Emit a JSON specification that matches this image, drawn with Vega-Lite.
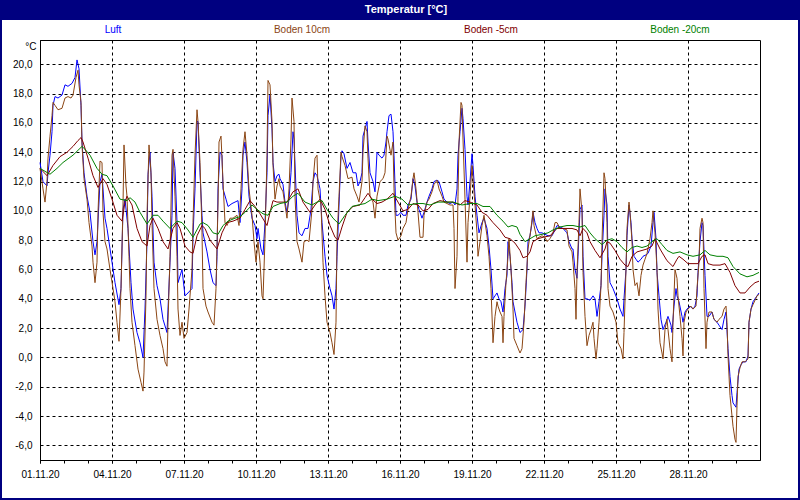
{
"$schema":"https://vega.github.io/schema/vega-lite/v6.json",
"width":720,"height":420,
"autosize":{"type":"none"},
"padding":{"left":40,"top":40,"right":40,"bottom":40},
"background":"#ffffff",
"config":{"view":{"stroke":"#000000","strokeWidth":1},"font":"Liberation Sans",
 "axisY":{"labelOverlap":false,"grid":true,"gridColor":"#000000","gridDash":[3,3],"gridOpacity":1,"gridWidth":1,"ticks":false,"tickSize":0,"labelPadding":8,"domainColor":"#000000","labelFont":"Liberation Sans","labelFontSize":10,"labelColor":"#000000","titleAngle":0,"titleX":-4,"titleY":6,"titleAlign":"right","titleBaseline":"middle","titleFont":"Liberation Sans","titleFontSize":10,"titleFontWeight":"normal","titleColor":"#000000"}},
"datasets":{
"luft":[{"h":0,"v":13.3},{"h":3,"v":12.0},{"h":7,"v":11.7},{"h":8,"v":12.6},{"h":10,"v":13.8},{"h":12,"v":15.4},{"h":13,"v":17.2},{"h":15,"v":17.8},{"h":18,"v":17.7},{"h":22,"v":17.9},{"h":25,"v":18.6},{"h":28,"v":18.5},{"h":32,"v":18.7},{"h":35,"v":19.1},{"h":37,"v":20.3},{"h":39,"v":19.7},{"h":41,"v":17.2},{"h":42,"v":14.7},{"h":44,"v":12.6},{"h":47,"v":11.0},{"h":50,"v":9.9},{"h":53,"v":7.9},{"h":55,"v":7.0},{"h":57,"v":7.9},{"h":60,"v":12.0},{"h":62,"v":12.5},{"h":65,"v":9.5},{"h":67,"v":8.8},{"h":72,"v":6.5},{"h":75,"v":5.1},{"h":79,"v":3.6},{"h":81,"v":4.7},{"h":83,"v":10.1},{"h":85,"v":10.8},{"h":88,"v":8.8},{"h":91,"v":5.1},{"h":93,"v":3.3},{"h":97,"v":1.7},{"h":100,"v":1.0},{"h":103,"v":0.0},{"h":105,"v":3.3},{"h":107,"v":7.9},{"h":108,"v":12.5},{"h":110,"v":14.0},{"h":112,"v":11.0},{"h":114,"v":6.5},{"h":117,"v":4.9},{"h":120,"v":4.0},{"h":123,"v":2.6},{"h":127,"v":1.7},{"h":128,"v":3.3},{"h":130,"v":6.5},{"h":132,"v":9.7},{"h":133,"v":14.0},{"h":135,"v":12.9},{"h":137,"v":9.2},{"h":138,"v":5.1},{"h":142,"v":6.0},{"h":145,"v":4.2},{"h":148,"v":4.4},{"h":152,"v":4.7},{"h":153,"v":8.3},{"h":155,"v":11.5},{"h":157,"v":16.1},{"h":158,"v":16.1},{"h":160,"v":12.6},{"h":162,"v":9.7},{"h":163,"v":8.5},{"h":167,"v":7.2},{"h":170,"v":6.0},{"h":173,"v":5.1},{"h":176,"v":4.9},{"h":177,"v":6.9},{"h":178,"v":11.5},{"h":180,"v":14.0},{"h":182,"v":13.8},{"h":183,"v":11.5},{"h":186,"v":10.8},{"h":188,"v":10.3},{"h":192,"v":10.5},{"h":195,"v":10.6},{"h":198,"v":10.7},{"h":200,"v":9.2},{"h":202,"v":11.5},{"h":203,"v":13.8},{"h":205,"v":14.7},{"h":207,"v":13.3},{"h":209,"v":11.0},{"h":212,"v":9.5},{"h":215,"v":9.0},{"h":217,"v":8.1},{"h":218,"v":8.8},{"h":221,"v":7.4},{"h":223,"v":7.0},{"h":225,"v":9.2},{"h":227,"v":12.6},{"h":228,"v":16.5},{"h":230,"v":17.9},{"h":232,"v":15.6},{"h":233,"v":13.3},{"h":235,"v":12.0},{"h":237,"v":12.4},{"h":239,"v":12.5},
{"h":240,"v":12.2},{"h":243,"v":11.8},{"h":245,"v":10.6},{"h":247,"v":9.9},{"h":249,"v":10.8},{"h":251,"v":12.6},{"h":253,"v":15.4},{"h":254,"v":14.9},{"h":256,"v":11.5},{"h":257,"v":9.7},{"h":259,"v":8.5},{"h":262,"v":8.3},{"h":265,"v":8.8},{"h":268,"v":8.8},{"h":271,"v":10.1},{"h":273,"v":12.0},{"h":275,"v":12.6},{"h":277,"v":12.4},{"h":280,"v":11.5},{"h":282,"v":9.2},{"h":285,"v":6.9},{"h":287,"v":5.6},{"h":290,"v":4.7},{"h":292,"v":4.2},{"h":294,"v":3.3},{"h":296,"v":4.7},{"h":297,"v":6.9},{"h":299,"v":10.4},{"h":301,"v":13.8},{"h":302,"v":14.1},{"h":304,"v":13.9},{"h":307,"v":12.9},{"h":310,"v":13.3},{"h":313,"v":12.6},{"h":316,"v":12.6},{"h":318,"v":11.7},{"h":320,"v":12.0},{"h":322,"v":12.6},{"h":323,"v":15.1},{"h":325,"v":15.6},{"h":327,"v":16.1},{"h":328,"v":14.7},{"h":330,"v":12.6},{"h":333,"v":12.0},{"h":335,"v":11.3},{"h":337,"v":14.0},{"h":339,"v":13.8},{"h":342,"v":13.6},{"h":344,"v":13.8},{"h":346,"v":14.7},{"h":347,"v":15.4},{"h":349,"v":16.5},{"h":351,"v":16.6},{"h":353,"v":15.4},{"h":354,"v":13.8},{"h":356,"v":9.7},{"h":358,"v":9.7},{"h":361,"v":9.9},{"h":363,"v":9.7},{"h":366,"v":9.7},{"h":368,"v":10.4},{"h":371,"v":10.8},{"h":373,"v":12.2},{"h":375,"v":11.7},{"h":377,"v":10.6},{"h":379,"v":10.1},{"h":382,"v":9.5},{"h":384,"v":9.9},{"h":387,"v":10.6},{"h":389,"v":11.0},{"h":392,"v":11.5},{"h":394,"v":12.0},{"h":397,"v":12.1},{"h":399,"v":12.0},{"h":402,"v":11.3},{"h":404,"v":10.8},{"h":407,"v":10.6},{"h":410,"v":10.5},{"h":413,"v":10.6},{"h":415,"v":10.4},{"h":417,"v":11.5},{"h":418,"v":13.8},{"h":420,"v":15.4},{"h":422,"v":17.0},{"h":423,"v":16.3},{"h":425,"v":14.2},{"h":427,"v":11.0},{"h":428,"v":10.4},{"h":430,"v":12.0},{"h":432,"v":13.9},{"h":433,"v":13.1},{"h":435,"v":11.0},{"h":437,"v":9.7},{"h":439,"v":8.5},{"h":442,"v":9.2},{"h":444,"v":9.5},{"h":447,"v":8.8},{"h":449,"v":7.6},{"h":451,"v":6.0},{"h":453,"v":4.0},{"h":455,"v":4.2},{"h":457,"v":4.4},{"h":459,"v":4.0},{"h":461,"v":3.8},{"h":463,"v":3.1},{"h":465,"v":4.7},{"h":467,"v":5.6},{"h":468,"v":7.9},{"h":470,"v":6.9},{"h":472,"v":5.1},{"h":473,"v":3.8},{"h":475,"v":3.1},{"h":477,"v":2.4},
{"h":480,"v":1.7},{"h":483,"v":1.9},{"h":485,"v":3.5},{"h":487,"v":6.0},{"h":488,"v":7.9},{"h":490,"v":8.3},{"h":492,"v":9.2},{"h":493,"v":9.9},{"h":495,"v":9.2},{"h":497,"v":8.8},{"h":499,"v":8.5},{"h":502,"v":8.5},{"h":505,"v":8.4},{"h":508,"v":8.3},{"h":512,"v":8.3},{"h":515,"v":8.7},{"h":517,"v":9.0},{"h":520,"v":8.9},{"h":523,"v":8.8},{"h":527,"v":8.5},{"h":529,"v":7.9},{"h":532,"v":7.4},{"h":533,"v":7.4},{"h":535,"v":6.0},{"h":537,"v":5.4},{"h":538,"v":6.9},{"h":540,"v":10.1},{"h":542,"v":10.4},{"h":543,"v":6.9},{"h":545,"v":4.0},{"h":547,"v":4.0},{"h":550,"v":3.9},{"h":553,"v":4.2},{"h":555,"v":4.0},{"h":557,"v":2.8},{"h":559,"v":3.8},{"h":561,"v":4.9},{"h":562,"v":6.9},{"h":564,"v":9.7},{"h":565,"v":11.5},{"h":567,"v":10.4},{"h":568,"v":6.9},{"h":570,"v":5.1},{"h":573,"v":4.7},{"h":577,"v":4.0},{"h":580,"v":3.3},{"h":583,"v":2.8},{"h":584,"v":4.0},{"h":586,"v":6.0},{"h":587,"v":8.3},{"h":589,"v":10.4},{"h":591,"v":9.2},{"h":592,"v":8.1},{"h":594,"v":6.9},{"h":596,"v":6.7},{"h":598,"v":6.5},{"h":601,"v":6.7},{"h":603,"v":6.9},{"h":606,"v":7.0},{"h":608,"v":7.1},{"h":611,"v":7.6},{"h":613,"v":9.2},{"h":614,"v":9.9},{"h":616,"v":8.1},{"h":617,"v":5.8},{"h":619,"v":4.2},{"h":621,"v":2.6},{"h":623,"v":1.9},{"h":626,"v":2.4},{"h":628,"v":2.8},{"h":631,"v":2.2},{"h":632,"v":1.7},{"h":634,"v":3.5},{"h":636,"v":4.7},{"h":637,"v":4.2},{"h":639,"v":3.8},{"h":642,"v":2.8},{"h":643,"v":2.4},{"h":645,"v":3.1},{"h":647,"v":3.3},{"h":650,"v":3.5},{"h":653,"v":3.3},{"h":655,"v":3.5},{"h":657,"v":4.2},{"h":658,"v":5.8},{"h":660,"v":7.9},{"h":662,"v":9.2},{"h":663,"v":9.0},{"h":665,"v":5.6},{"h":667,"v":2.8},{"h":669,"v":2.8},{"h":672,"v":3.1},{"h":674,"v":2.6},{"h":677,"v":2.4},{"h":679,"v":2.2},{"h":682,"v":1.9},{"h":684,"v":2.6},{"h":686,"v":3.1},{"h":688,"v":0.6},{"h":690,"v":-1.3},{"h":692,"v":-2.6},{"h":693,"v":-3.1},{"h":696,"v":-3.4},{"h":697,"v":-2.4},{"h":699,"v":-0.8},{"h":701,"v":-0.5},{"h":703,"v":-0.3},{"h":706,"v":-0.3},{"h":708,"v":0.1},{"h":709,"v":2.4},{"h":711,"v":3.3},{"h":713,"v":3.8},{"h":717,"v":4.2},{"h":719,"v":4.4}],
"boden10":[{"h":0,"v":12.9},{"h":3,"v":11.5},{"h":5,"v":10.6},{"h":7,"v":12.0},{"h":8,"v":13.6},{"h":10,"v":15.1},{"h":12,"v":16.5},{"h":13,"v":17.4},{"h":15,"v":17.2},{"h":18,"v":16.9},{"h":22,"v":17.0},{"h":25,"v":17.7},{"h":28,"v":17.8},{"h":31,"v":17.7},{"h":33,"v":17.9},{"h":36,"v":19.1},{"h":38,"v":19.6},{"h":39,"v":18.6},{"h":41,"v":17.4},{"h":42,"v":14.5},{"h":44,"v":12.2},{"h":47,"v":10.8},{"h":49,"v":9.2},{"h":52,"v":7.6},{"h":53,"v":6.5},{"h":55,"v":5.1},{"h":57,"v":6.5},{"h":58,"v":9.9},{"h":60,"v":13.4},{"h":62,"v":13.3},{"h":63,"v":9.9},{"h":65,"v":7.9},{"h":67,"v":7.4},{"h":70,"v":6.0},{"h":73,"v":4.7},{"h":75,"v":3.8},{"h":77,"v":2.4},{"h":79,"v":1.1},{"h":81,"v":4.7},{"h":83,"v":10.4},{"h":84,"v":14.5},{"h":86,"v":11.7},{"h":87,"v":11.0},{"h":89,"v":6.9},{"h":90,"v":4.7},{"h":92,"v":2.4},{"h":95,"v":0.8},{"h":98,"v":-0.8},{"h":101,"v":-1.7},{"h":103,"v":-2.3},{"h":104,"v":-1.0},{"h":106,"v":4.2},{"h":107,"v":9.7},{"h":109,"v":14.5},{"h":111,"v":12.6},{"h":112,"v":9.2},{"h":114,"v":4.7},{"h":117,"v":2.6},{"h":120,"v":1.5},{"h":123,"v":0.6},{"h":125,"v":-0.3},{"h":127,"v":-0.6},{"h":128,"v":2.4},{"h":130,"v":6.9},{"h":132,"v":13.8},{"h":133,"v":14.2},{"h":135,"v":11.0},{"h":137,"v":6.9},{"h":138,"v":3.3},{"h":140,"v":1.5},{"h":142,"v":2.4},{"h":144,"v":1.3},{"h":147,"v":1.7},{"h":149,"v":3.3},{"h":152,"v":6.0},{"h":153,"v":9.2},{"h":155,"v":13.8},{"h":157,"v":16.9},{"h":158,"v":16.1},{"h":160,"v":13.3},{"h":162,"v":8.5},{"h":163,"v":4.7},{"h":166,"v":3.5},{"h":168,"v":3.1},{"h":172,"v":2.4},{"h":174,"v":2.2},{"h":176,"v":4.7},{"h":178,"v":10.4},{"h":179,"v":14.7},{"h":181,"v":15.1},{"h":183,"v":12.0},{"h":185,"v":9.2},{"h":187,"v":9.0},{"h":190,"v":9.5},{"h":193,"v":9.5},{"h":197,"v":9.7},{"h":199,"v":9.0},{"h":201,"v":11.5},{"h":203,"v":14.2},{"h":205,"v":15.4},{"h":207,"v":13.8},{"h":209,"v":11.5},{"h":212,"v":9.7},{"h":214,"v":7.9},{"h":216,"v":6.5},{"h":218,"v":7.9},{"h":220,"v":6.5},{"h":222,"v":4.2},{"h":223,"v":4.0},{"h":225,"v":8.1},{"h":227,"v":13.8},{"h":228,"v":18.9},{"h":230,"v":18.6},{"h":232,"v":16.1},{"h":233,"v":13.1},{"h":235,"v":10.8},{"h":237,"v":11.7},{"h":239,"v":12.2},
{"h":240,"v":11.7},{"h":243,"v":11.3},{"h":245,"v":10.4},{"h":247,"v":9.5},{"h":249,"v":11.5},{"h":251,"v":14.9},{"h":252,"v":17.7},{"h":254,"v":16.1},{"h":255,"v":11.0},{"h":257,"v":7.9},{"h":259,"v":7.4},{"h":262,"v":6.5},{"h":264,"v":7.9},{"h":267,"v":8.0},{"h":269,"v":7.9},{"h":272,"v":10.1},{"h":273,"v":12.0},{"h":275,"v":13.6},{"h":277,"v":13.8},{"h":278,"v":11.5},{"h":281,"v":10.4},{"h":283,"v":6.5},{"h":285,"v":4.2},{"h":287,"v":2.4},{"h":290,"v":1.7},{"h":292,"v":1.0},{"h":294,"v":0.2},{"h":296,"v":2.4},{"h":297,"v":8.1},{"h":299,"v":11.0},{"h":301,"v":14.0},{"h":302,"v":13.7},{"h":305,"v":13.1},{"h":308,"v":12.2},{"h":312,"v":12.3},{"h":314,"v":11.5},{"h":317,"v":11.0},{"h":319,"v":10.6},{"h":322,"v":12.0},{"h":323,"v":14.0},{"h":325,"v":15.8},{"h":327,"v":15.4},{"h":328,"v":13.6},{"h":330,"v":11.0},{"h":333,"v":10.6},{"h":335,"v":9.5},{"h":337,"v":11.0},{"h":340,"v":12.0},{"h":343,"v":12.2},{"h":345,"v":12.6},{"h":347,"v":15.1},{"h":348,"v":14.9},{"h":351,"v":13.8},{"h":353,"v":14.7},{"h":354,"v":11.5},{"h":356,"v":8.5},{"h":358,"v":8.0},{"h":361,"v":8.3},{"h":363,"v":8.8},{"h":366,"v":9.2},{"h":368,"v":10.1},{"h":371,"v":11.0},{"h":373,"v":12.2},{"h":374,"v":12.6},{"h":376,"v":11.5},{"h":378,"v":9.9},{"h":380,"v":8.2},{"h":383,"v":8.2},{"h":384,"v":9.7},{"h":387,"v":10.6},{"h":389,"v":10.8},{"h":392,"v":11.3},{"h":394,"v":11.8},{"h":397,"v":12.1},{"h":399,"v":11.5},{"h":402,"v":11.0},{"h":404,"v":10.6},{"h":407,"v":10.5},{"h":410,"v":10.4},{"h":413,"v":10.4},{"h":414,"v":8.8},{"h":415,"v":4.7},{"h":417,"v":6.9},{"h":418,"v":11.0},{"h":419,"v":14.7},{"h":421,"v":17.4},{"h":422,"v":17.2},{"h":423,"v":14.9},{"h":425,"v":10.8},{"h":427,"v":6.5},{"h":428,"v":9.2},{"h":430,"v":11.0},{"h":432,"v":13.1},{"h":433,"v":12.2},{"h":435,"v":10.4},{"h":437,"v":8.5},{"h":438,"v":6.9},{"h":440,"v":7.9},{"h":442,"v":9.0},{"h":444,"v":9.7},{"h":447,"v":8.3},{"h":449,"v":6.9},{"h":451,"v":4.7},{"h":453,"v":1.0},{"h":455,"v":2.8},{"h":457,"v":3.8},{"h":458,"v":3.5},{"h":460,"v":3.1},{"h":462,"v":2.8},{"h":463,"v":1.0},{"h":464,"v":2.8},{"h":466,"v":5.1},{"h":468,"v":6.9},{"h":469,"v":8.1},{"h":471,"v":6.0},{"h":473,"v":3.3},{"h":474,"v":1.3},{"h":477,"v":0.8},
{"h":480,"v":0.3},{"h":482,"v":0.6},{"h":484,"v":2.4},{"h":486,"v":5.1},{"h":488,"v":7.4},{"h":491,"v":8.8},{"h":493,"v":10.0},{"h":494,"v":9.0},{"h":497,"v":8.1},{"h":499,"v":8.2},{"h":502,"v":8.3},{"h":505,"v":8.2},{"h":507,"v":7.9},{"h":510,"v":8.1},{"h":513,"v":8.5},{"h":515,"v":9.2},{"h":517,"v":9.2},{"h":520,"v":8.8},{"h":523,"v":8.8},{"h":527,"v":8.7},{"h":529,"v":7.6},{"h":532,"v":7.2},{"h":533,"v":6.5},{"h":535,"v":4.7},{"h":536,"v":2.6},{"h":537,"v":5.8},{"h":539,"v":9.2},{"h":540,"v":11.5},{"h":542,"v":9.9},{"h":543,"v":5.8},{"h":545,"v":2.8},{"h":547,"v":0.8},{"h":549,"v":1.5},{"h":551,"v":1.9},{"h":553,"v":2.4},{"h":554,"v":1.3},{"h":556,"v":-0.1},{"h":557,"v":0.6},{"h":559,"v":2.4},{"h":561,"v":4.9},{"h":562,"v":7.9},{"h":564,"v":12.6},{"h":565,"v":12.2},{"h":567,"v":9.2},{"h":568,"v":4.7},{"h":570,"v":3.5},{"h":573,"v":3.1},{"h":576,"v":2.4},{"h":578,"v":1.0},{"h":581,"v":0.6},{"h":583,"v":-0.1},{"h":584,"v":1.7},{"h":586,"v":6.0},{"h":587,"v":8.8},{"h":589,"v":10.6},{"h":590,"v":9.9},{"h":592,"v":7.9},{"h":593,"v":6.0},{"h":595,"v":4.9},{"h":597,"v":5.1},{"h":599,"v":4.2},{"h":601,"v":5.6},{"h":603,"v":6.3},{"h":605,"v":6.7},{"h":607,"v":7.1},{"h":610,"v":8.1},{"h":612,"v":9.2},{"h":613,"v":10.0},{"h":615,"v":8.5},{"h":617,"v":6.0},{"h":618,"v":3.3},{"h":620,"v":1.0},{"h":622,"v":0.3},{"h":623,"v":-0.1},{"h":625,"v":1.9},{"h":627,"v":2.6},{"h":628,"v":1.9},{"h":630,"v":0.6},{"h":632,"v":-0.3},{"h":633,"v":2.4},{"h":635,"v":6.0},{"h":637,"v":5.4},{"h":638,"v":4.2},{"h":640,"v":2.8},{"h":642,"v":1.3},{"h":643,"v":0.1},{"h":644,"v":2.4},{"h":646,"v":3.1},{"h":648,"v":3.3},{"h":651,"v":3.5},{"h":653,"v":3.3},{"h":656,"v":3.5},{"h":657,"v":4.7},{"h":659,"v":6.5},{"h":660,"v":8.8},{"h":662,"v":9.5},{"h":663,"v":9.2},{"h":664,"v":4.7},{"h":666,"v":0.6},{"h":667,"v":2.4},{"h":669,"v":3.1},{"h":672,"v":3.1},{"h":674,"v":2.6},{"h":677,"v":2.4},{"h":679,"v":2.6},{"h":682,"v":2.8},{"h":684,"v":3.3},{"h":686,"v":3.5},{"h":687,"v":2.4},{"h":688,"v":0.1},{"h":690,"v":-2.6},{"h":692,"v":-4.0},{"h":693,"v":-4.7},{"h":695,"v":-5.6},{"h":696,"v":-5.8},{"h":697,"v":-3.3},{"h":698,"v":-1.3},{"h":700,"v":-0.7},{"h":702,"v":-0.3},{"h":705,"v":-0.3},{"h":708,"v":-0.1},{"h":709,"v":2.4},{"h":711,"v":3.3},{"h":713,"v":3.6},{"h":717,"v":4.2},{"h":719,"v":4.3}],
"boden5":[{"h":0,"v":12.9},{"h":7,"v":12.4},{"h":13,"v":13.1},{"h":20,"v":13.7},{"h":27,"v":14.0},{"h":33,"v":14.4},{"h":38,"v":14.8},{"h":41,"v":15.0},{"h":43,"v":14.7},{"h":48,"v":13.6},{"h":53,"v":12.4},{"h":58,"v":11.6},{"h":63,"v":12.2},{"h":67,"v":11.8},{"h":72,"v":10.8},{"h":77,"v":9.7},{"h":82,"v":9.3},{"h":85,"v":10.6},{"h":87,"v":11.0},{"h":92,"v":10.4},{"h":97,"v":8.8},{"h":102,"v":7.9},{"h":107,"v":7.6},{"h":110,"v":9.0},{"h":113,"v":9.5},{"h":118,"v":8.8},{"h":123,"v":7.9},{"h":128,"v":7.4},{"h":133,"v":8.8},{"h":137,"v":9.2},{"h":140,"v":8.8},{"h":145,"v":7.6},{"h":150,"v":7.2},{"h":153,"v":7.1},{"h":157,"v":8.3},{"h":162,"v":9.0},{"h":165,"v":8.8},{"h":170,"v":8.0},{"h":177,"v":7.4},{"h":182,"v":8.5},{"h":187,"v":9.2},{"h":193,"v":9.3},{"h":200,"v":9.5},{"h":205,"v":10.1},{"h":210,"v":10.7},{"h":215,"v":10.3},{"h":220,"v":9.8},{"h":227,"v":9.0},{"h":230,"v":9.9},{"h":233,"v":10.7},{"h":237,"v":10.6},{"h":240,"v":10.6},{"h":247,"v":10.6},{"h":253,"v":11.3},{"h":258,"v":11.5},{"h":263,"v":10.6},{"h":270,"v":9.9},{"h":275,"v":10.4},{"h":280,"v":10.8},{"h":285,"v":10.1},{"h":290,"v":9.0},{"h":295,"v":8.2},{"h":298,"v":8.0},{"h":302,"v":8.9},{"h":307,"v":9.9},{"h":313,"v":10.3},{"h":320,"v":10.4},{"h":325,"v":10.9},{"h":328,"v":11.2},{"h":332,"v":10.8},{"h":337,"v":10.5},{"h":342,"v":10.6},{"h":347,"v":10.8},{"h":353,"v":11.2},{"h":358,"v":10.6},{"h":363,"v":10.0},{"h":368,"v":10.1},{"h":373,"v":10.5},{"h":378,"v":10.4},{"h":383,"v":10.0},{"h":388,"v":10.1},{"h":393,"v":10.5},{"h":400,"v":10.7},{"h":407,"v":10.6},{"h":413,"v":10.6},{"h":420,"v":10.4},{"h":425,"v":10.7},{"h":430,"v":10.6},{"h":437,"v":10.4},{"h":442,"v":9.9},{"h":447,"v":9.7},{"h":453,"v":9.2},{"h":460,"v":8.7},{"h":465,"v":8.2},{"h":470,"v":8.1},{"h":475,"v":7.8},{"h":480,"v":7.3},{"h":483,"v":6.8},{"h":487,"v":6.9},{"h":490,"v":7.2},{"h":493,"v":7.9},{"h":498,"v":8.1},{"h":503,"v":8.2},{"h":510,"v":8.3},{"h":517,"v":8.8},{"h":523,"v":8.8},{"h":532,"v":8.8},{"h":537,"v":8.7},{"h":540,"v":8.3},{"h":543,"v":8.8},{"h":547,"v":8.5},{"h":550,"v":7.9},{"h":555,"v":7.3},{"h":560,"v":6.8},{"h":565,"v":7.4},{"h":567,"v":7.9},{"h":570,"v":7.8},{"h":575,"v":7.3},{"h":580,"v":6.7},{"h":585,"v":6.3},{"h":588,"v":6.2},{"h":592,"v":6.9},{"h":597,"v":7.2},{"h":602,"v":7.3},{"h":607,"v":7.4},{"h":612,"v":7.6},{"h":615,"v":8.1},{"h":620,"v":7.4},{"h":627,"v":6.6},{"h":633,"v":6.2},{"h":637,"v":6.7},{"h":639,"v":6.9},{"h":643,"v":6.7},{"h":648,"v":6.4},{"h":653,"v":6.4},{"h":658,"v":6.4},{"h":662,"v":6.9},{"h":665,"v":7.0},{"h":668,"v":6.4},{"h":673,"v":6.3},{"h":680,"v":6.3},{"h":685,"v":6.4},{"h":690,"v":5.8},{"h":695,"v":4.9},{"h":700,"v":4.4},{"h":705,"v":4.4},{"h":710,"v":4.8},{"h":715,"v":5.1},{"h":719,"v":5.2}],
"boden20":[{"h":0,"v":12.9},{"h":10,"v":12.5},{"h":17,"v":12.9},{"h":23,"v":13.3},{"h":33,"v":13.8},{"h":42,"v":14.4},{"h":45,"v":14.2},{"h":50,"v":13.8},{"h":57,"v":12.9},{"h":62,"v":12.5},{"h":67,"v":12.4},{"h":73,"v":11.7},{"h":80,"v":10.8},{"h":87,"v":10.7},{"h":90,"v":10.9},{"h":95,"v":10.6},{"h":100,"v":9.9},{"h":107,"v":9.1},{"h":113,"v":9.7},{"h":118,"v":9.7},{"h":123,"v":9.3},{"h":130,"v":8.8},{"h":137,"v":9.3},{"h":142,"v":9.2},{"h":148,"v":8.7},{"h":153,"v":8.2},{"h":160,"v":9.1},{"h":163,"v":9.2},{"h":168,"v":9.0},{"h":173,"v":8.5},{"h":178,"v":8.4},{"h":183,"v":9.0},{"h":188,"v":9.3},{"h":195,"v":9.5},{"h":200,"v":9.6},{"h":205,"v":9.9},{"h":212,"v":10.4},{"h":217,"v":10.1},{"h":223,"v":9.8},{"h":228,"v":9.7},{"h":233,"v":10.3},{"h":240,"v":10.5},{"h":247,"v":10.6},{"h":253,"v":11.0},{"h":258,"v":11.2},{"h":265,"v":10.6},{"h":272,"v":10.4},{"h":277,"v":10.6},{"h":282,"v":10.7},{"h":287,"v":10.1},{"h":293,"v":9.5},{"h":299,"v":9.1},{"h":305,"v":9.7},{"h":312,"v":10.3},{"h":318,"v":10.4},{"h":325,"v":10.5},{"h":332,"v":10.8},{"h":338,"v":10.7},{"h":347,"v":10.8},{"h":355,"v":11.0},{"h":362,"v":10.8},{"h":368,"v":10.4},{"h":377,"v":10.5},{"h":383,"v":10.5},{"h":390,"v":10.4},{"h":398,"v":10.6},{"h":405,"v":10.6},{"h":413,"v":10.6},{"h":422,"v":10.4},{"h":430,"v":10.5},{"h":437,"v":10.5},{"h":443,"v":10.3},{"h":450,"v":10.3},{"h":457,"v":9.7},{"h":463,"v":9.3},{"h":468,"v":8.9},{"h":472,"v":9.0},{"h":477,"v":8.9},{"h":480,"v":8.4},{"h":485,"v":7.9},{"h":490,"v":8.1},{"h":495,"v":8.3},{"h":502,"v":8.4},{"h":508,"v":8.5},{"h":513,"v":8.7},{"h":520,"v":8.9},{"h":527,"v":9.0},{"h":533,"v":9.0},{"h":540,"v":8.9},{"h":545,"v":9.0},{"h":550,"v":8.5},{"h":555,"v":8.1},{"h":562,"v":7.7},{"h":567,"v":8.0},{"h":572,"v":8.1},{"h":577,"v":7.9},{"h":582,"v":7.5},{"h":587,"v":7.2},{"h":592,"v":7.5},{"h":597,"v":7.6},{"h":602,"v":7.5},{"h":607,"v":7.6},{"h":612,"v":7.9},{"h":617,"v":8.1},{"h":622,"v":7.7},{"h":627,"v":7.3},{"h":633,"v":7.1},{"h":640,"v":7.2},{"h":647,"v":7.0},{"h":653,"v":6.9},{"h":660,"v":7.0},{"h":665,"v":7.3},{"h":670,"v":7.0},{"h":677,"v":6.9},{"h":683,"v":6.9},{"h":688,"v":6.8},{"h":693,"v":6.2},{"h":700,"v":5.7},{"h":707,"v":5.5},{"h":713,"v":5.6},{"h":719,"v":5.8}],
"labels":[{"series":"Luft"},{"series":"Boden 10cm"},{"series":"Boden -5cm"},{"series":"Boden -20cm"}]
},
"layer":[
{"layer":[
 {"data":{"name":"luft"},
  "mark":{"type":"line","strokeWidth":1},
  "encoding":{
   "x":{"field":"h","type":"quantitative","scale":{"domain":[0,720],"nice":false,"zero":false},
    "axis":{"title":null,"orient":"bottom","values":[0,72,144,216,288,360,432,504,576,648],"labelExpr":"timeFormat(datetime(2020,10,1+datum.value/24),'%d.%m.%y')","labelFlush":false,"labelOverlap":false,"grid":true,"gridColor":"#000000","gridDash":[3,3],"gridOpacity":1,"gridWidth":1,"tickSize":3,"tickColor":"#000000","domainColor":"#000000","labelPadding":6,"labelFont":"Liberation Sans","labelFontSize":10,"labelColor":"#000000"}},
   "y":{"field":"v","type":"quantitative","scale":{"domain":[-7,21.66],"nice":false,"zero":false},
    "axis":{"title":"°C","orient":"left","values":[-6,-4,-2,0,2,4,6,8,10,12,14,16,18,20],"labelExpr":"replace(replace(format(datum.value,'.1f'),'.',','),'\u2212','-')"}},
   "color":{"datum":"Luft","type":"nominal","scale":{"domain":["Luft","Boden 10cm","Boden -5cm","Boden -20cm"],"range":["#0000ff","#8b4513","#800000","#008000"]},"legend":null}
  }},
 {"data":{"name":"boden10"},
  "mark":{"type":"line","strokeWidth":1},
  "encoding":{
   "x":{"field":"h","type":"quantitative","scale":{"domain":[0,720],"nice":false,"zero":false},"axis":null},
   "y":{"field":"v","type":"quantitative","scale":{"domain":[-7,21.66],"nice":false,"zero":false},
    "axis":{"title":"°C","orient":"left","values":[-6,-4,-2,0,2,4,6,8,10,12,14,16,18,20],"labelExpr":"replace(replace(format(datum.value,'.1f'),'.',','),'\u2212','-')"}},
   "color":{"datum":"Boden 10cm","type":"nominal","legend":null}
  }},
 {"data":{"name":"boden5"},
  "mark":{"type":"line","strokeWidth":1},
  "encoding":{
   "x":{"field":"h","type":"quantitative","scale":{"domain":[0,720],"nice":false,"zero":false},"axis":null},
   "y":{"field":"v","type":"quantitative","scale":{"domain":[-7,21.66],"nice":false,"zero":false},
    "axis":{"title":"°C","orient":"left","values":[-6,-4,-2,0,2,4,6,8,10,12,14,16,18,20],"labelExpr":"replace(replace(format(datum.value,'.1f'),'.',','),'\u2212','-')"}},
   "color":{"datum":"Boden -5cm","type":"nominal","legend":null}
  }},
 {"data":{"name":"boden20"},
  "mark":{"type":"line","strokeWidth":1},
  "encoding":{
   "x":{"field":"h","type":"quantitative","scale":{"domain":[0,720],"nice":false,"zero":false},"axis":null},
   "y":{"field":"v","type":"quantitative","scale":{"domain":[-7,21.66],"nice":false,"zero":false},
    "axis":{"title":"°C","orient":"left","values":[-6,-4,-2,0,2,4,6,8,10,12,14,16,18,20],"labelExpr":"replace(replace(format(datum.value,'.1f'),'.',','),'\u2212','-')"}},
   "color":{"datum":"Boden -20cm","type":"nominal","legend":null}
  }},
 {"data":{"values":[{}]},
  "mark":{"type":"rect","color":"#000080"},
  "encoding":{
   "x":{"datum":-40,"type":"quantitative","scale":{"domain":[0,720],"nice":false,"zero":false},"axis":null},
   "x2":{"datum":760},
   "y":{"datum":24.4,"type":"quantitative","scale":{"domain":[-7,21.66],"nice":false,"zero":false},
    "axis":{"title":"°C","orient":"left","values":[-6,-4,-2,0,2,4,6,8,10,12,14,16,18,20],"labelExpr":"replace(replace(format(datum.value,'.1f'),'.',','),'\u2212','-')"}},
   "y2":{"datum":23.025}
  }},
 {"data":{"values":[{}]},
  "mark":{"type":"text","color":"#ffffff","font":"Liberation Sans","fontSize":11,"fontWeight":"bold","align":"center","baseline":"alphabetic"},
  "encoding":{
   "x":{"datum":366,"type":"quantitative","scale":{"domain":[0,720],"nice":false,"zero":false},"axis":null},
   "y":{"datum":23.5,"type":"quantitative","scale":{"domain":[-7,21.66],"nice":false,"zero":false},
    "axis":{"title":"°C","orient":"left","values":[-6,-4,-2,0,2,4,6,8,10,12,14,16,18,20],"labelExpr":"replace(replace(format(datum.value,'.1f'),'.',','),'\u2212','-')"}},
   "text":{"value":"Temperatur [°C]"}
  }},
 {"data":{"values":[{}]},
  "mark":{"type":"rect","filled":false,"color":"#000080","strokeWidth":4},
  "encoding":{
   "x":{"datum":-40,"type":"quantitative","scale":{"domain":[0,720],"nice":false,"zero":false},
    "axis":{"title":null,"orient":"bottom","values":[0,24,48,72,96,120,144,168,192,216,240,264,288,312,336,360,384,408,432,456,480,504,528,552,576,600,624,648,672,696],"labels":false,"grid":false,"domain":false,"ticks":true,"tickSize":3,"tickColor":"#000000"}},
   "x2":{"datum":760},
   "y":{"datum":24.4,"type":"quantitative","scale":{"domain":[-7,21.66],"nice":false,"zero":false},
    "axis":{"title":"°C","orient":"left","values":[-6,-4,-2,0,2,4,6,8,10,12,14,16,18,20],"labelExpr":"replace(replace(format(datum.value,'.1f'),'.',','),'\u2212','-')"}},
   "y2":{"datum":-9.73}
  }}
 ],
 "resolve":{"axis":{"x":"independent"}}
},
{"data":{"name":"labels"},
 "mark":{"type":"text","font":"Liberation Sans","fontSize":10,"align":"center","baseline":"middle"},
 "encoding":{
  "x":{"field":"series","type":"nominal","scale":{"type":"point","domain":["Luft","Boden 10cm","Boden -5cm","Boden -20cm"],"padding":0.405,"align":0.477},"axis":null},
  "y":{"datum":22.34,"type":"quantitative","scale":{"domain":[-7,21.66],"nice":false,"zero":false},
   "axis":{"title":"°C","orient":"left","values":[-6,-4,-2,0,2,4,6,8,10,12,14,16,18,20],"labelExpr":"replace(replace(format(datum.value,'.1f'),'.',','),'\u2212','-')"}},
  "text":{"field":"series"},
  "color":{"field":"series","type":"nominal","legend":null}
 }}
],
"resolve":{"scale":{"x":"independent"},"axis":{"x":"independent"}}
}
